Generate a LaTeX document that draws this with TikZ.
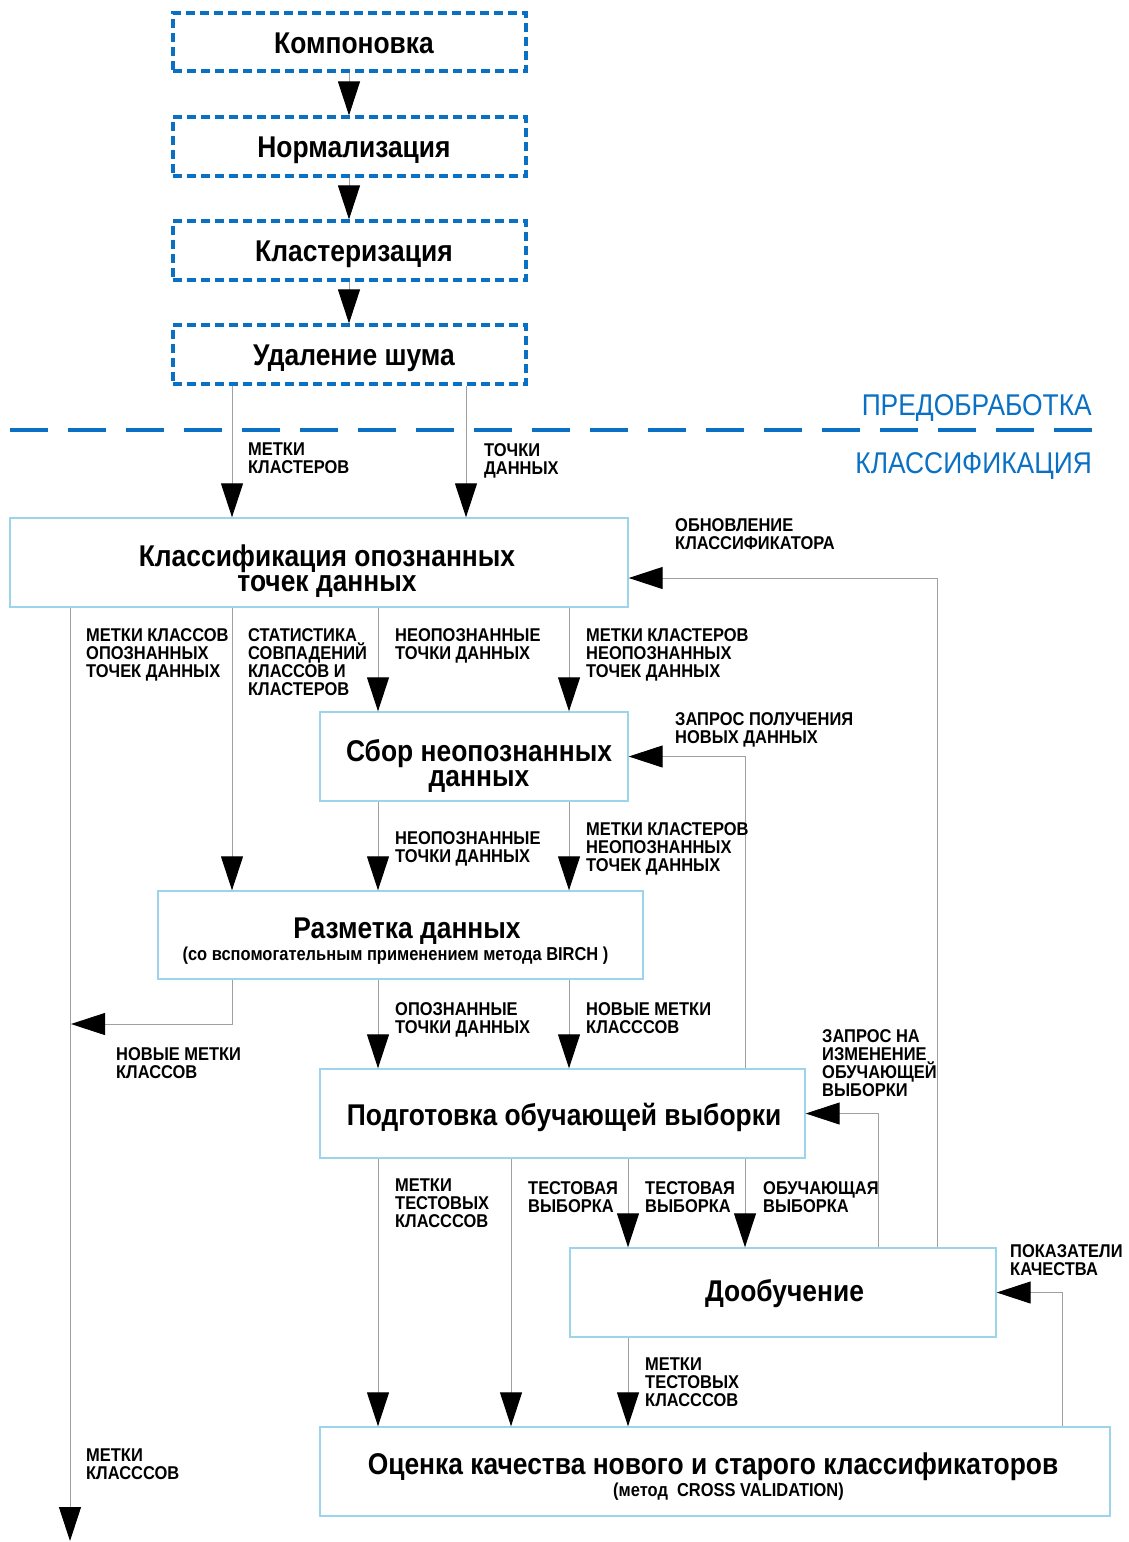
\documentclass[tikz,border=0pt]{standalone}
\usepackage{fontspec}
\setmainfont{Liberation Sans}[FakeStretch=0.88]
\newfontfamily\lblfont{Liberation Sans}[FakeStretch=0.89]
\usetikzlibrary{arrows.meta,calc}
\definecolor{dblue}{HTML}{0A70C4}
\definecolor{lblue}{HTML}{9CD4EC}
\definecolor{lgray}{HTML}{A0A0A0}
\begin{document}
\begin{tikzpicture}[x=1pt,y=-1pt,
  tbox/.style={draw=dblue,line width=3.1pt,dash pattern=on 9pt off 5pt,rectangle,inner sep=0pt},
  cbox/.style={draw=lblue,line width=1.4pt,rectangle,inner sep=0pt},
  ttl/.style={font=\fontsize{30}{25}\selectfont\bfseries,align=center,inner sep=0pt},
  sub/.style={font=\fontsize{18.7}{20}\selectfont\bfseries,inner sep=0pt},
  lbl/.style={font=\lblfont\fontsize{18.5}{18}\selectfont\bfseries,align=left,anchor=north west,inner sep=0pt},
  phase/.style={font=\fontsize{30}{30}\selectfont,text=dblue,anchor=base east,inner sep=0pt},
  flow/.style={draw=lgray,line width=1pt,-{Triangle[width=22pt,length=34pt,color=black]}}
]
\useasboundingbox (0,0) rectangle (1129,1542);

% preprocessing boxes
\node[tbox,minimum width=353pt,minimum height=58pt] (k1) at (349.5,42) {};
\node[tbox,minimum width=353pt,minimum height=59pt] (k2) at (349.5,146.5) {};
\node[tbox,minimum width=353pt,minimum height=59pt] (k3) at (349.5,250.5) {};
\node[tbox,minimum width=353pt,minimum height=59pt] (k4) at (349.5,354.5) {};
\node[ttl,anchor=base] (k1t) at (354,53) {Компоновка};
\node[ttl,anchor=base] (k2t) at (354,157) {Нормализация};
\node[ttl,anchor=base] (k3t) at (354,261) {Кластеризация};
\node[ttl,anchor=base] (k4t) at (354,365) {Удаление шума};

% separator
\coordinate (sepL) at (10,430);
\coordinate (sepR) at (1092,430);
\draw[dblue,line width=4pt,dash pattern=on 38pt off 20pt] (sepL) -- (sepR);
\node[phase] (pre) at (1092,415) {ПРЕДОБРАБОТКА};
\node[phase] (cla) at (1092,473) {КЛАССИФИКАЦИЯ};

% classification boxes
\node[cbox,minimum width=618pt,minimum height=89pt] (cls) at (319,562.5) {};
\node[ttl] (clst) at (327,571) {Классификация опознанных\\точек данных};
\node[cbox,minimum width=308pt,minimum height=89pt] (sbor) at (474,756.5) {};
\node[ttl] (sbort) at (479,765.5) {Сбор неопознанных\\данных};
\node[cbox,minimum width=485pt,minimum height=88pt] (razm) at (400.5,935) {};
\node[ttl,anchor=base] (razmt) at (407,938) {Разметка данных};
\node[sub,anchor=base] (razms) at (395.5,960) {(со вспомогательным применением метода BIRCH )};
\node[cbox,minimum width=485pt,minimum height=89pt] (podg) at (562.5,1113.5) {};
\node[ttl,anchor=base] (podgt) at (564,1125) {Подготовка обучающей выборки};
\node[cbox,minimum width=426pt,minimum height=89pt] (doob) at (783,1292.5) {};
\node[ttl,anchor=base] (doobt) at (784.5,1301) {Дообучение};
\node[cbox,minimum width=790pt,minimum height=89pt] (ocen) at (715,1471.5) {};
\node[ttl,anchor=base] (ocent) at (713,1474) {Оценка качества нового и старого классификаторов};
\node[sub,anchor=base] (ocens) at (728.5,1496) {(метод\ \ CROSS VALIDATION)};

% helper coordinates
\coordinate (x70) at (70,0);
\coordinate (x232) at (232,0);
\coordinate (x349) at (349,0);
\coordinate (x378) at (378,0);
\coordinate (x466) at (466,0);
\coordinate (x511) at (511,0);
\coordinate (x569) at (569,0);
\coordinate (x628) at (628,0);
\coordinate (x745) at (745,0);
\coordinate (x878) at (878,0);
\coordinate (x937) at (937,0);
\coordinate (x1062) at (1062,0);
\coordinate (y578) at (0,578);
\coordinate (bottom) at (70,1541);
\coordinate (joinL) at (71,1024);

% connectors
\draw[flow] (k1.south -| x349) -- (k2.north -| x349);
\draw[flow] (k2.south -| x349) -- (k3.north -| x349);
\draw[flow] (k3.south -| x349) -- (k4.north -| x349);
\draw[flow] (k4.south -| x232) -- (cls.north -| x232);
\draw[flow] (k4.south -| x466) -- (cls.north -| x466);

\draw[flow] (cls.south -| x70) -- (bottom);
\draw[flow] (cls.south -| x232) -- (razm.north -| x232);
\draw[flow] (cls.south -| x378) -- (sbor.north -| x378);
\draw[flow] (cls.south -| x569) -- (sbor.north -| x569);

\draw[flow] (sbor.south -| x378) -- (razm.north -| x378);
\draw[flow] (sbor.south -| x569) -- (razm.north -| x569);

\draw[flow] (razm.south -| x232) |- (joinL);
\draw[flow] (razm.south -| x378) -- (podg.north -| x378);
\draw[flow] (razm.south -| x569) -- (podg.north -| x569);

\draw[flow] (podg.south -| x378) -- (ocen.north -| x378);
\draw[flow] (podg.south -| x511) -- (ocen.north -| x511);
\draw[flow] (podg.south -| x628) -- (doob.north -| x628);
\draw[flow] (podg.south -| x745) -- (doob.north -| x745);
\draw[flow] (doob.south -| x628) -- (ocen.north -| x628);

\draw[flow] (doob.north -| x937) |- (cls.east |- y578);
\draw[flow] (podg.north -| x745) |- (sbor.east);
\draw[flow] (doob.north -| x878) |- (podg.east);
\draw[flow] (ocen.north -| x1062) |- (doob.east);

% labels
\node[lbl] (l1) at (248,443) {МЕТКИ\\КЛАСТЕРОВ};
\node[lbl] (l2) at (484,443) {ТОЧКИ\\ДАННЫХ};
\node[lbl] (l3) at (675,518) {ОБНОВЛЕНИЕ\\КЛАССИФИКАТОРА};
\node[lbl] (l4) at (86,628) {МЕТКИ КЛАССОВ\\ОПОЗНАННЫХ\\ТОЧЕК ДАННЫХ};
\node[lbl] (l5) at (248,628) {СТАТИСТИКА\\СОВПАДЕНИЙ\\КЛАССОВ И\\КЛАСТЕРОВ};
\node[lbl] (l6) at (395,628) {НЕОПОЗНАННЫЕ\\ТОЧКИ ДАННЫХ};
\node[lbl] (l7) at (586,628) {МЕТКИ КЛАСТЕРОВ\\НЕОПОЗНАННЫХ\\ТОЧЕК ДАННЫХ};
\node[lbl] (l8) at (675,712) {ЗАПРОС ПОЛУЧЕНИЯ\\НОВЫХ ДАННЫХ};
\node[lbl] (l9) at (395,831) {НЕОПОЗНАННЫЕ\\ТОЧКИ ДАННЫХ};
\node[lbl] (l10) at (586,822) {МЕТКИ КЛАСТЕРОВ\\НЕОПОЗНАННЫХ\\ТОЧЕК ДАННЫХ};
\node[lbl] (l11) at (395,1002) {ОПОЗНАННЫЕ\\ТОЧКИ ДАННЫХ};
\node[lbl] (l12) at (586,1002) {НОВЫЕ МЕТКИ\\КЛАСССОВ};
\node[lbl] (l13) at (116,1047) {НОВЫЕ МЕТКИ\\КЛАССОВ};
\node[lbl] (l14) at (822,1029) {ЗАПРОС НА\\ИЗМЕНЕНИЕ\\ОБУЧАЮЩЕЙ\\ВЫБОРКИ};
\node[lbl] (l15) at (395,1179) {МЕТКИ\\ТЕСТОВЫХ\\КЛАСССОВ};
\node[lbl] (l16) at (528,1181) {ТЕСТОВАЯ\\ВЫБОРКА};
\node[lbl] (l17) at (645,1181) {ТЕСТОВАЯ\\ВЫБОРКА};
\node[lbl] (l18) at (763,1181) {ОБУЧАЮЩАЯ\\ВЫБОРКА};
\node[lbl] (l19) at (1010,1244) {ПОКАЗАТЕЛИ\\КАЧЕСТВА};
\node[lbl] (l20) at (645,1358) {МЕТКИ\\ТЕСТОВЫХ\\КЛАСССОВ};
\node[lbl] (l21) at (86,1449) {МЕТКИ\\КЛАСССОВ};
\end{tikzpicture}
\end{document}
